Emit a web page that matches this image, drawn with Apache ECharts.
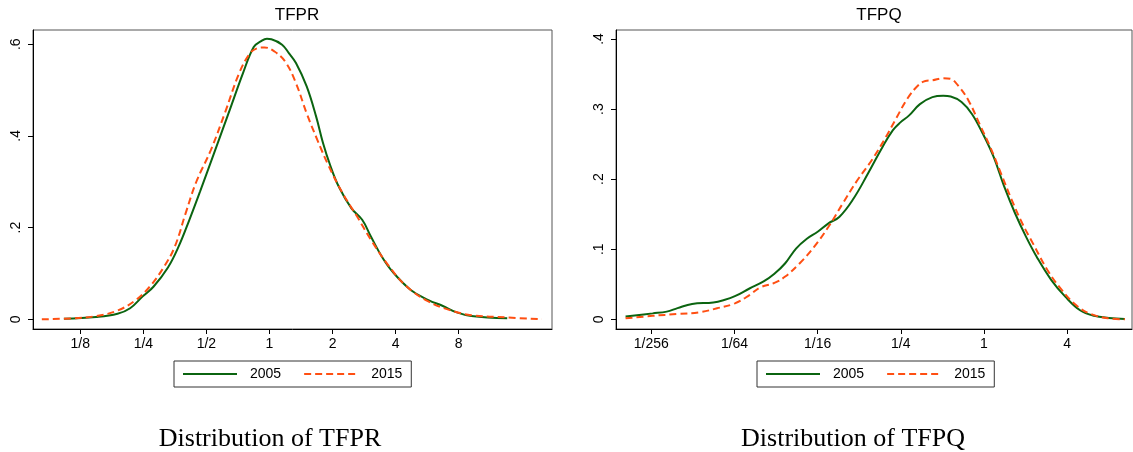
<!DOCTYPE html>
<html>
<head>
<meta charset="utf-8">
<title>TFPR / TFPQ</title>
<script src="https://cdn.jsdelivr.net/npm/echarts@6/dist/echarts.min.js"></script>
<style>
  html, body { margin: 0; padding: 0; background: #fff; }
  #chart { width: 1133px; height: 452px; }
</style>
</head>
<body>
<div id="chart"></div>
<script>
// x positions are log2 of the ratio (1 -> 0, 1/8 -> -3, 8 -> 3)
var tfprTicks = [-3, -2, -1, 0, 1, 2, 3]
var tfprTickLabels = ['1/8', '1/4', '1/2', '1', '2', '4', '8']
var tfprYTicks = [0, 0.2, 0.4, 0.6]
var tfprYLabels = ['0', '.2', '.4', '.6']

var tfpqTicks = [-8, -6, -4, -2, 0, 2]
var tfpqTickLabels = ['1/256', '1/64', '1/16', '1/4', '1', '4']
var tfpqYTicks = [0, 0.1, 0.2, 0.3, 0.4]
var tfpqYLabels = ['0', '.1', '.2', '.3', '.4']

var tfpr2005X = [-3.26, -2.75, -2.41, -2.21, -2.01, -1.84, -1.61, -1.44, -1.27, -1.10, -0.88, -0.65, -0.42, -0.25, -0.14, -0.04, 0.03, 0.20, 0.31, 0.42, 0.59, 0.74, 0.85, 0.96, 1.10, 1.30, 1.47, 1.61, 1.78, 1.95, 2.24, 2.52, 2.75, 2.97, 3.20, 3.77]
var tfpr2005Y = [0.001, 0.005, 0.012, 0.024, 0.050, 0.071, 0.113, 0.159, 0.217, 0.279, 0.362, 0.449, 0.537, 0.594, 0.606, 0.612, 0.611, 0.599, 0.580, 0.559, 0.508, 0.442, 0.384, 0.337, 0.289, 0.242, 0.217, 0.180, 0.137, 0.104, 0.064, 0.042, 0.029, 0.015, 0.007, 0.002]

var tfpr2015X = [-3.61, -3.14, -2.75, -2.41, -2.12, -1.90, -1.67, -1.50, -1.33, -1.16, -0.93, -0.71, -0.48, -0.31, -0.20, -0.08, 0.08, 0.25, 0.42, 0.59, 0.76, 0.93, 1.16, 1.39, 1.61, 1.90, 2.18, 2.52, 2.86, 3.20, 3.77, 4.32]
var tfpr2015Y = [0.000, 0.002, 0.007, 0.019, 0.042, 0.071, 0.115, 0.159, 0.231, 0.300, 0.369, 0.449, 0.537, 0.580, 0.591, 0.593, 0.584, 0.562, 0.515, 0.449, 0.391, 0.337, 0.275, 0.224, 0.173, 0.115, 0.071, 0.039, 0.020, 0.009, 0.004, 0.000]

var tfpq2005X = [-8.62, -7.97, -7.63, -7.37, -7.02, -6.51, -6.25, -5.99, -5.64, -5.30, -5.04, -4.78, -4.52, -4.26, -4.00, -3.74, -3.48, -3.14, -2.79, -2.44, -2.19, -2.01, -1.80, -1.54, -1.24, -0.98, -0.80, -0.54, -0.29, -0.03, 0.23, 0.49, 0.75, 1.01, 1.27, 1.62, 1.96, 2.31, 2.65, 3.00, 3.39]
var tfpq2005Y = [0.004, 0.0085, 0.011, 0.016, 0.022, 0.024, 0.0275, 0.033, 0.044, 0.054, 0.065, 0.080, 0.101, 0.115, 0.125, 0.137, 0.146, 0.172, 0.208, 0.246, 0.270, 0.281, 0.291, 0.307, 0.317, 0.319, 0.318, 0.310, 0.293, 0.265, 0.232, 0.189, 0.151, 0.118, 0.089, 0.056, 0.032, 0.013, 0.005, 0.002, 0.0005]

var tfpq2015X = [-8.62, -7.97, -7.37, -6.85, -6.42, -5.99, -5.64, -5.38, -5.04, -4.78, -4.43, -4.09, -3.74, -3.40, -3.05, -2.70, -2.36, -2.10, -1.84, -1.58, -1.41, -1.24, -0.98, -0.80, -0.63, -0.37, -0.11, 0.15, 0.41, 0.67, 0.92, 1.18, 1.53, 1.87, 2.22, 2.57, 3.00, 3.39]
var tfpq2015Y = [0.0014, 0.005, 0.0076, 0.010, 0.0157, 0.0228, 0.0346, 0.0456, 0.052, 0.061, 0.080, 0.103, 0.132, 0.165, 0.198, 0.227, 0.260, 0.288, 0.315, 0.334, 0.340, 0.341, 0.344, 0.343, 0.334, 0.312, 0.279, 0.246, 0.208, 0.170, 0.137, 0.108, 0.070, 0.042, 0.020, 0.0076, 0.0014, 0.000]

var green = '#0b6410'
var orange = '#ff4f12'
var sans = 'Liberation Sans'

function pairs(xs, ys) {
  return xs.map(function (x, i) { return [x, ys[i]] })
}

function xAxisFor(gridIndex, min, max, ticks, labels) {
  return {
    type: 'value',
    gridIndex: gridIndex,
    min: min,
    max: max,
    axisLine: { onZero: false, lineStyle: { color: '#000', width: 1 } },
    axisTick: { customValues: ticks, length: 5, lineStyle: { color: '#000' } },
    axisLabel: {
      customValues: ticks,
      margin: 8,
      color: '#000',
      fontFamily: sans,
      fontSize: 14,
      formatter: function (v) { return labels[ticks.indexOf(v)] }
    },
    splitLine: { show: false }
  }
}

function yAxisFor(gridIndex, min, max, ticks, labels) {
  return {
    type: 'value',
    gridIndex: gridIndex,
    min: min,
    max: max,
    axisLine: { show: true, onZero: false, lineStyle: { color: '#000', width: 1 } },
    axisTick: { show: true, customValues: ticks, length: 5, lineStyle: { color: '#000' } },
    axisLabel: {
      customValues: ticks,
      rotate: 90,
      margin: 10,
      color: '#000',
      fontFamily: sans,
      fontSize: 14,
      formatter: function (v) { return labels[ticks.indexOf(v)] }
    },
    splitLine: { show: false }
  }
}

function curve(name, data, xi, color, dashed) {
  return {
    name: name,
    type: 'line',
    xAxisIndex: xi,
    yAxisIndex: xi,
    data: data,
    smooth: 0.4,
    symbol: 'none',
    silent: true,
    lineStyle: { color: color, width: 2, type: dashed ? [7, 4] : 'solid' },
    itemStyle: { color: color },
    z: dashed ? 3 : 2
  }
}

function legendAt(left) {
  return {
    left: left,
    top: 361,
    data: ['2005', '2015'],
    orient: 'horizontal',
    itemWidth: 54,
    itemHeight: 12,
    itemGap: 22,
    padding: [6, 9, 6, 8],
    borderColor: '#333',
    borderWidth: 1,
    selectedMode: false,
    itemStyle: { opacity: 0 },
    textStyle: { color: '#000', fontFamily: sans, fontSize: 14, padding: [0, 0, 0, 8] }
  }
}

var chart = echarts.init(document.getElementById('chart'))
chart.setOption({
  animation: false,
  backgroundColor: '#fff',
  title: [
    { text: 'TFPR', left: 292, top: 2, textAlign: 'center',
      textStyle: { fontFamily: sans, fontSize: 17, fontWeight: 'normal', color: '#000' } },
    { text: 'TFPQ', left: 874, top: 2, textAlign: 'center',
      textStyle: { fontFamily: sans, fontSize: 17, fontWeight: 'normal', color: '#000' } },
    { text: 'Distribution of TFPR', left: 265, top: 421, textAlign: 'center',
      textStyle: { fontFamily: 'Liberation Serif', fontSize: 26, fontWeight: 'normal', color: '#000' } },
    { text: 'Distribution of TFPQ', left: 848, top: 421, textAlign: 'center',
      textStyle: { fontFamily: 'Liberation Serif', fontSize: 26, fontWeight: 'normal', color: '#000' } }
  ],
  legend: [legendAt(174), legendAt(757)],
  grid: [
    { left: 33, top: 30, width: 519, height: 299, show: true, borderColor: '#555', borderWidth: 1 },
    { left: 616, top: 30, width: 516, height: 299, show: true, borderColor: '#555', borderWidth: 1 }
  ],
  xAxis: [
    xAxisFor(0, -3.75, 4.48, tfprTicks, tfprTickLabels),
    xAxisFor(1, -8.85, 3.56, tfpqTicks, tfpqTickLabels)
  ],
  yAxis: [
    yAxisFor(0, -0.0212, 0.631, tfprYTicks, tfprYLabels),
    yAxisFor(1, -0.0138, 0.4128, tfpqYTicks, tfpqYLabels)
  ],
  series: [
    curve('2005', pairs(tfpr2005X, tfpr2005Y), 0, green, false),
    curve('2015', pairs(tfpr2015X, tfpr2015Y), 0, orange, true),
    curve('2005', pairs(tfpq2005X, tfpq2005Y), 1, green, false),
    curve('2015', pairs(tfpq2015X, tfpq2015Y), 1, orange, true)
  ]
})
</script>
</body>
</html>
